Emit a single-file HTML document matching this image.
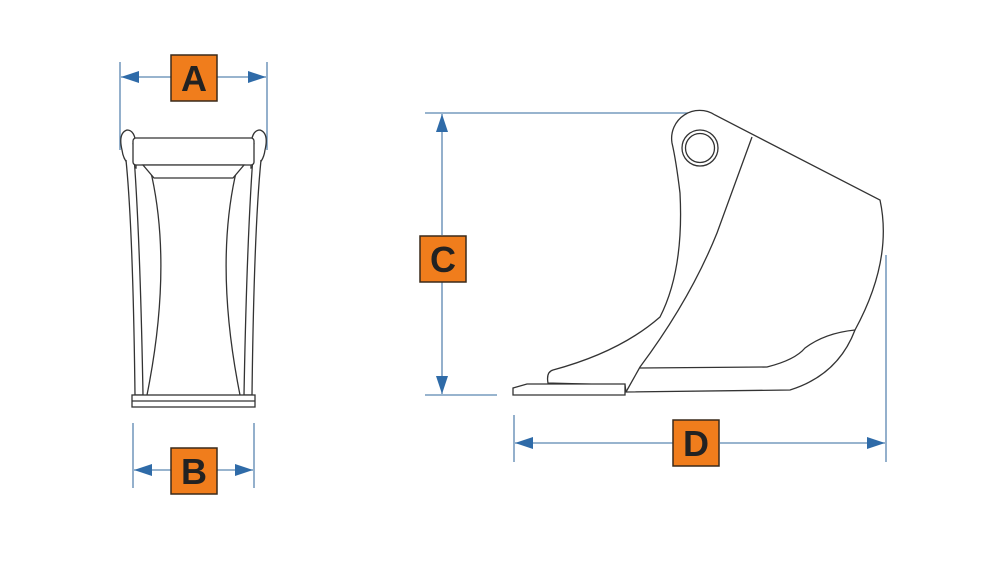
<!DOCTYPE html>
<html><head><meta charset="utf-8"><style>
html,body{margin:0;padding:0;background:#fff;width:1000px;height:561px;overflow:hidden}
svg{display:block}
.lbl{font-family:"Liberation Sans",Arial,sans-serif;font-weight:bold;font-size:36px;fill:#222}
</style></head><body>
<svg width="1000" height="561" viewBox="0 0 1000 561" xmlns="http://www.w3.org/2000/svg">
<defs>
<marker id="ar" viewBox="0 0 18 12" refX="18" refY="6" markerWidth="18" markerHeight="12" markerUnits="userSpaceOnUse" orient="auto-start-reverse">
<path d="M0,0 L18,6 L0,12 Z" fill="#2f6ba8"/></marker>
</defs>
<g stroke="#5a86b0" stroke-width="1.3" fill="none">
<line x1="120" y1="62" x2="120" y2="150"/><line x1="267" y1="62" x2="267" y2="150"/>
<line x1="121" y1="77" x2="171" y2="77" marker-start="url(#ar)"/>
<line x1="217" y1="77" x2="266" y2="77" marker-end="url(#ar)"/>
<line x1="133" y1="423" x2="133" y2="488"/><line x1="254" y1="423" x2="254" y2="488"/>
<line x1="134" y1="470" x2="171" y2="470" marker-start="url(#ar)"/>
<line x1="217" y1="470" x2="253" y2="470" marker-end="url(#ar)"/>
<line x1="425" y1="113" x2="688" y2="113"/><line x1="425" y1="395" x2="497" y2="395"/>
<line x1="442" y1="114" x2="442" y2="235" marker-start="url(#ar)"/>
<line x1="442" y1="282" x2="442" y2="394" marker-end="url(#ar)"/>
<line x1="514" y1="415" x2="514" y2="462"/><line x1="886" y1="255" x2="886" y2="462"/>
<line x1="515" y1="443" x2="673" y2="443" marker-start="url(#ar)"/>
<line x1="720" y1="443" x2="885" y2="443" marker-end="url(#ar)"/>
</g>
<g fill="#f07d1c" stroke="#3a2a1a" stroke-width="1.5">
<rect x="171" y="55" width="46" height="46"/>
<rect x="171" y="448" width="46" height="46"/>
<rect x="420" y="236" width="46" height="46"/>
<rect x="673" y="420" width="46" height="46"/>
</g>
<text class="lbl" x="194" y="91" text-anchor="middle">A</text>
<text class="lbl" x="194" y="484" text-anchor="middle">B</text>
<text class="lbl" x="443" y="272" text-anchor="middle">C</text>
<text class="lbl" x="696" y="456" text-anchor="middle">D</text>

<g stroke="#333" stroke-width="1.3" fill="#fff">
<path d="M122,150 Q118,133 127,130 Q135,130 136,145 L136,168 Q124,165 122,150 Z"/>
<path d="M265,150 Q269,133 260,130 Q252,130 251,145 L251,168 Q263,165 265,150 Z"/>
<path d="M126,160 Q133,230 135,395 L143,395 Q140,230 133,143" />
<path d="M261,160 Q254,230 252,395 L244,395 Q247,230 254,143" />
<path d="M133,143 Q148,160 152,177 Q172,270 147,395" fill="none"/>
<path d="M254,143 Q239,160 235,177 Q215,270 240,395" fill="none"/>
<rect x="133" y="138" width="121" height="27" rx="3"/>
<path d="M143,165 L244,165 L233,178 L154,178 Z"/>
<rect x="132" y="395" width="123" height="12"/>
<line x1="132" y1="401" x2="255" y2="401"/>
</g>

<g stroke="#333" stroke-width="1.3" fill="#fff">
<path d="M672,143 A28,28 0 0 1 715,115 L880,200 Q893,260 855,330 Q838,375 790,390 L626,392 L625,385 L548,383 Q546,372 553,370 Q620,352 660,317 Q684,270 680,193 Q676,160 672,143 Z"/>
<path d="M752,137 L717,233 Q690,300 640,367 L626,392" fill="none"/>
<path d="M640,368 L767,367 Q795,360 805,348 Q825,333 855,330" fill="none"/>
<circle cx="700" cy="148" r="18"/>
<circle cx="700" cy="148" r="14.5"/>
<path d="M513,388 L527,384 L625,384 L625,395 L513,395 Z"/>
</g>
</svg>
</body></html>
